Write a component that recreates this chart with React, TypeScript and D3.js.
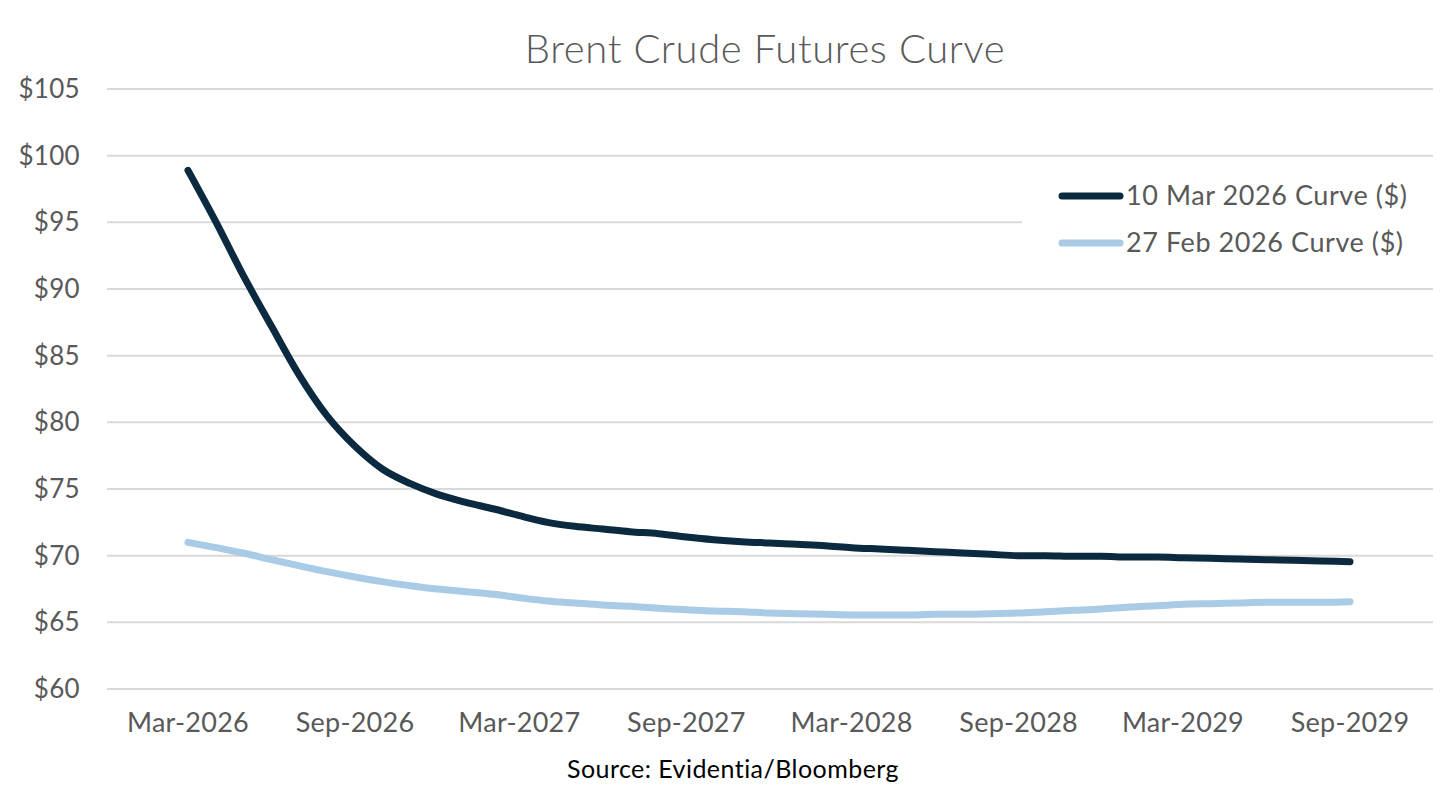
import React from "react";
import * as d3 from "d3";

const startYear = 2026;
const startMonth = 2; // March (0-based)
const mar10Curve = [
  98.9, 95.0, 91.0, 87.2, 83.6, 80.5, 78.2, 76.5, 75.4, 74.6, 74.0, 73.5, 73.0,
  72.5, 72.2, 72.0, 71.8, 71.65, 71.4, 71.2, 71.05, 70.95, 70.85, 70.75, 70.6,
  70.5, 70.4, 70.3, 70.2, 70.1, 70.0, 70.0, 69.95, 69.95, 69.9, 69.9, 69.85,
  69.8, 69.75, 69.7, 69.65, 69.6, 69.55,
];
const feb27Curve = [
  71.0, 70.6, 70.2, 69.7, 69.25, 68.8, 68.4, 68.05, 67.75, 67.5, 67.3, 67.1,
  66.85, 66.6, 66.45, 66.3, 66.2, 66.05, 65.95, 65.85, 65.8, 65.7, 65.65, 65.6,
  65.55, 65.55, 65.55, 65.6, 65.6, 65.65, 65.7, 65.8, 65.9, 66.0, 66.15, 66.25,
  66.35, 66.4, 66.45, 66.5, 66.5, 66.5, 66.55,
];
const xTickLabels = [
  "Mar-2026", "Sep-2026", "Mar-2027", "Sep-2027",
  "Mar-2028", "Sep-2028", "Mar-2029", "Sep-2029",
];
const yTicks = [60, 65, 70, 75, 80, 85, 90, 95, 100, 105];
const seriesNames = ["10 Mar 2026 Curve ($)", "27 Feb 2026 Curve ($)"];
const seriesColors = ["#0b2a3f", "#a9cbe6"];

const W = 1446;
const H = 786;
const FONT = "Lato, 'Noto Sans', sans-serif";
const TEXT = "#595959";

export default function App() {
  const dates = mar10Curve.map((_, i) => new Date(startYear, startMonth + i, 1));
  const tickDates = xTickLabels.map((_, i) => new Date(startYear, startMonth + i * 6, 1));
  const x = d3
    .scaleTime()
    .domain([dates[0], dates[dates.length - 1]])
    .range([188, 1350]);
  const y = d3.scaleLinear().domain([60, 105]).range([689, 89]);
  const line = d3
    .line<number>()
    .x((_, i) => x(dates[i]))
    .y((d) => y(d))
    .curve(d3.curveMonotoneX);
  const series = [mar10Curve, feb27Curve];

  return (
    <svg
      width={W}
      height={H}
      style={{ position: "absolute", left: 0, top: 0, background: "#fff" }}
      fontFamily={FONT}
    >
      <rect width={W} height={H} fill="#fff" />
      <text x={765} y={63} textAnchor="middle" fontSize={40} fontWeight={300} letterSpacing={0.6} fill={TEXT}>
        Brent Crude Futures Curve
      </text>
      {yTicks.map((t) => (
        <g key={t}>
          <line x1={107} x2={1433} y1={y(t)} y2={y(t)} stroke="#d9d9d9" strokeWidth={2} />
          <text x={80} y={y(t)} dy="0.35em" textAnchor="end" fontSize={26} letterSpacing={0.3} fill={TEXT}>
            ${t}
          </text>
        </g>
      ))}
      {/* legend background */}
      <rect x={1022} y={170} width={411} height={96} fill="#fff" />
      {tickDates.map((d, i) => (
        <text key={i} x={x(d)} y={732} textAnchor="middle" fontSize={27} letterSpacing={0.25} fill={TEXT}>
          {xTickLabels[i]}
        </text>
      ))}
      {series.map((s, i) => (
        <path
          key={i}
          d={line(s) || ""}
          fill="none"
          stroke={seriesColors[i]}
          strokeWidth={7}
          strokeLinecap="round"
          strokeLinejoin="round"
        />
      ))}
      {seriesNames.map((n, i) => (
        <g key={n} transform={`translate(0, ${196 + i * 47})`}>
          <line x1={1062} x2={1120} y1={0} y2={0} stroke={seriesColors[i]} strokeWidth={7} strokeLinecap="round" />
          <text x={1126} y={0} dy="0.35em" fontSize={27} letterSpacing={0.57} fill={TEXT}>
            {n}
          </text>
        </g>
      ))}
      <text x={733} y={778} textAnchor="middle" fontSize={25} letterSpacing={0.45} fill="#000">
        Source: Evidentia/Bloomberg
      </text>
    </svg>
  );
}
